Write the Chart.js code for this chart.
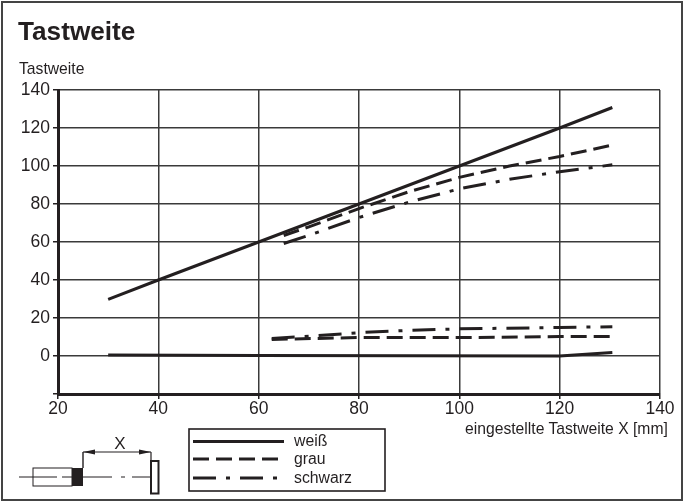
<!DOCTYPE html>
<html lang="de"><head><meta charset="utf-8">
<script src="https://cdn.jsdelivr.net/npm/chart.js@4"></script>
<style>
html,body{margin:0;padding:0;background:#fff}
#wrap{position:relative;width:683px;height:503px;overflow:hidden;font-family:"Liberation Sans",Arial,sans-serif;color:#231f20}
#frame{position:absolute;left:1px;top:1px;width:678px;height:496px;border:2px solid #444}
canvas{position:absolute;left:0;top:0}
.t{position:absolute;white-space:nowrap;line-height:1}
svg{position:absolute;left:0;top:0}
</style></head><body>
<div id="wrap">
<canvas id="c" width="683" height="503"></canvas>
<div id="frame"></div>
<div class="t" style="left:18px;top:18px;font-size:26.2px;font-weight:bold">Tastweite</div>
<div class="t" style="left:19px;top:61px;font-size:15.7px">Tastweite</div>
<div class="t" style="left:465px;top:421px;font-size:15.7px">eingestellte Tastweite X [mm]</div>
<svg id="s" width="683" height="503" xmlns="http://www.w3.org/2000/svg"></svg>
</div>
<script>
const xTicks=[20,40,60,80,100,120,140];
const yTicks=[140,120,100,80,60,40,20,0,-20];
const legendNames=["weiß","grau","schwarz"];
const weissFarX=[30,40,60,80,100,120,130.5];
const weissFarY=[29.8,40,60,80,100,120,130.8];
const grauFarX=[65,70,80,90,100,110,120,130.5];
const grauFarY=[63.4,68,77.6,86.5,94,100,105,111];
const schwarzFarX=[65,70,80,90,100,110,120,130.5];
const schwarzFarY=[59.2,63.5,72.9,81,88,93,97,100.6];
const weissNearX=[30,60,120,130.5];
const weissNearY=[0.5,0.2,0,1.8];
const grauNearX=[62.6,80,100,120,130.5];
const grauNearY=[8.7,9.7,9.7,10.2,10.2];
const schwarzNearX=[62.6,70,80,90,100,120,130.5];
const schwarzNearY=[9.2,10.4,12.3,13.5,14.3,15,15.4];
const ink="#231f20", gridInk="#3a3a3a";
const dashGrau=[16,7], dashSchwarz=[23,10,4,10];
const pts=(xs,ys)=>xs.map((x,i)=>({x,y:ys[i]}));
const ds=(label,xs,ys,dash)=>({label,data:pts(xs,ys),borderColor:ink,borderWidth:3,borderDash:dash,pointRadius:0,tension:0,fill:false,borderCapStyle:'butt',borderJoinStyle:'round'});
new Chart(document.getElementById('c'),{
  type:'line',
  data:{datasets:[
    ds(legendNames[0],weissFarX,weissFarY,[]),
    ds(legendNames[0],weissNearX,weissNearY,[]),
    ds(legendNames[1],grauFarX,grauFarY,dashGrau),
    ds(legendNames[1],grauNearX,grauNearY,dashGrau),
    ds(legendNames[2],schwarzFarX,schwarzFarY,dashSchwarz),
    ds(legendNames[2],schwarzNearX,schwarzNearY,dashSchwarz)
  ]},
  options:{
    responsive:false,animation:false,devicePixelRatio:1,
    layout:{padding:{left:0,right:23,top:90,bottom:0}},
    plugins:{legend:{display:false},title:{display:false},tooltip:{enabled:false}},
    scales:{
      x:{type:'linear',min:20,max:140,
        afterBuildTicks:a=>{a.ticks=xTicks.map(v=>({value:v}))},
        afterFit:a=>{a.height=109},
        grid:{color:gridInk,lineWidth:1.5,drawTicks:true,tickLength:5,tickColor:ink},
        border:{color:ink,width:3},
        ticks:{color:ink,font:{family:'"Liberation Sans"',size:17.5},maxRotation:0,autoSkip:false,padding:0}},
      y:{type:'linear',min:-20,max:140,
        afterBuildTicks:a=>{a.ticks=yTicks.map(v=>({value:v}))},
        afterFit:a=>{a.width=58},
        grid:{color:gridInk,lineWidth:1.5,drawTicks:true,tickLength:5,tickColor:ink},
        border:{color:ink,width:3},
        ticks:{color:ink,font:{family:'"Liberation Sans"',size:17.5},autoSkip:false,padding:3,
          callback:v=>v===-20?'':String(v)}}
    }
  }
});
// legend and sensor sketch
const NS="http://www.w3.org/2000/svg", svg=document.getElementById('s');
function el(n,a,t){const e=document.createElementNS(NS,n);for(const k in a)e.setAttribute(k,a[k]);if(t)e.textContent=t;svg.appendChild(e);return e}
el('rect',{x:189,y:429,width:196,height:62,fill:'#fff',stroke:ink,'stroke-width':1.6});
const lgY=[441.5,459,478], lgDash=["",dashGrau.join(' '),dashSchwarz.join(' ')];
legendNames.forEach((n,i)=>{
  el('line',{x1:193,x2:284,y1:lgY[i],y2:lgY[i],stroke:ink,'stroke-width':3,'stroke-dasharray':lgDash[i]});
  el('text',{x:294,y:lgY[i]+4.5,fill:ink,'font-family':'Liberation Sans','font-size':15.8},n);
});
const L=(x1,y1,x2,y2,w)=>el('line',{x1,y1,x2,y2,stroke:ink,'stroke-width':w||1});
L(19,477,57,477);L(62,477,72,477);L(83,477,112,477);L(121,477,125,477);L(132,477,150,477);
el('rect',{x:33,y:468,width:39,height:18,fill:'none',stroke:ink,'stroke-width':1});
el('rect',{x:72,y:468,width:11,height:18,fill:ink});
L(83,452,83,468,1.4);L(151,452,151,461,1.2);L(83,452,151,452,1.2);
el('path',{d:'M83 452 L95 449.5 L95 454.5 Z',fill:ink});
el('path',{d:'M151 452 L139 449.5 L139 454.5 Z',fill:ink});
el('rect',{x:151,y:461,width:7.5,height:32.5,fill:'#fff',stroke:ink,'stroke-width':2});
el('text',{x:120,y:449,'text-anchor':'middle',fill:ink,'font-family':'Liberation Sans','font-size':17},'X');
</script>
</body></html>
